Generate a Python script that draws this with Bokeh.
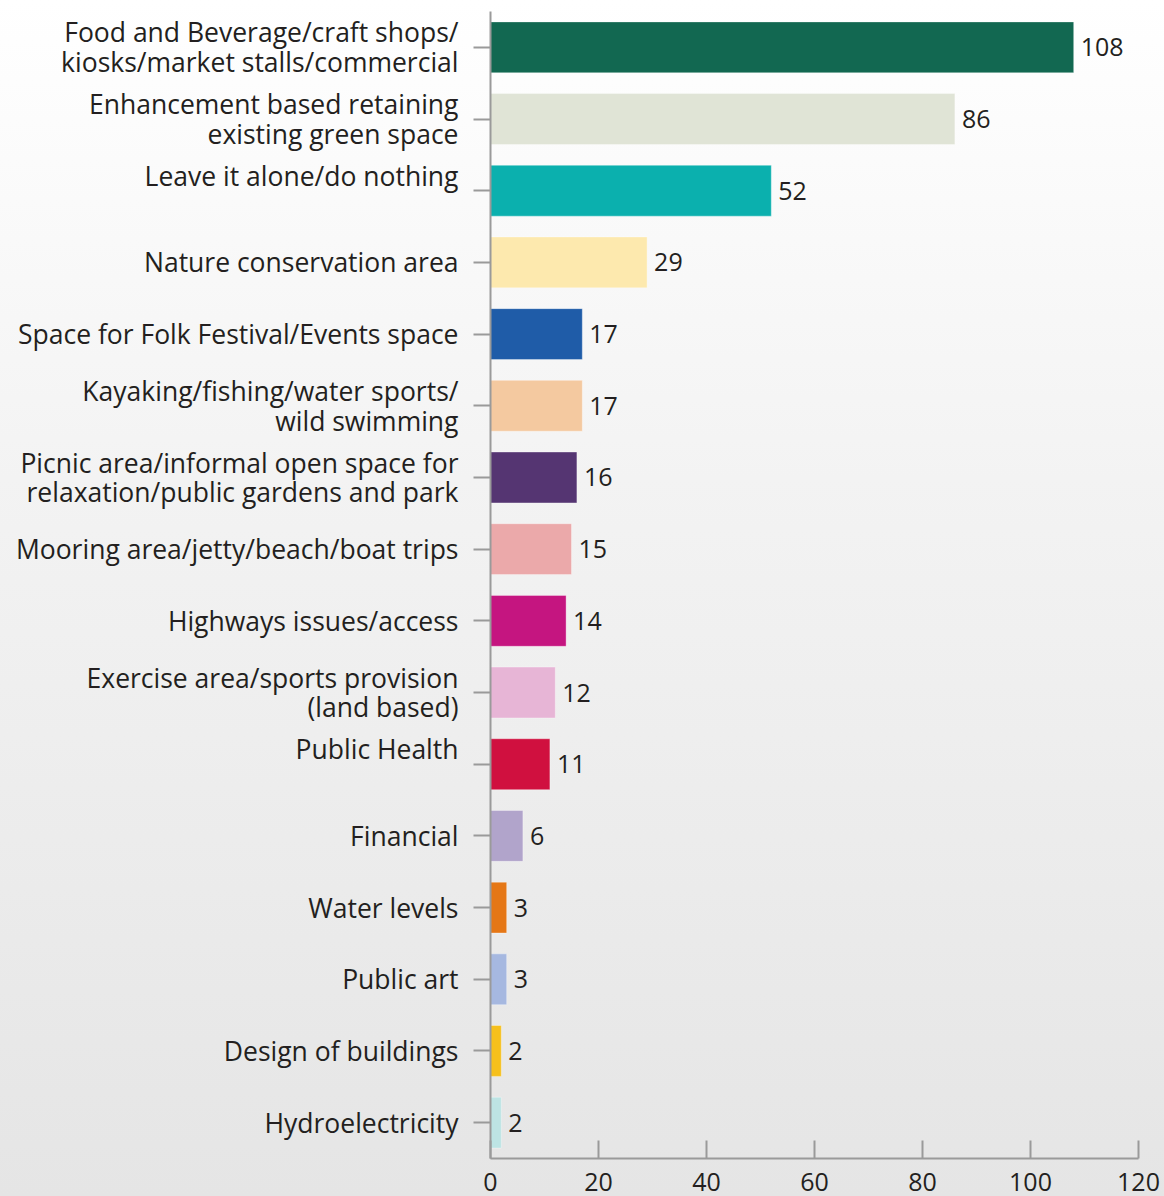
from bokeh.plotting import figure
from bokeh.models import ColumnDataSource, FactorRange, Range1d, FixedTicker
from bokeh.core.properties import value
from bokeh.embed import file_html
from bokeh.resources import INLINE

categories = [
    "Food and Beverage/craft shops/\nkiosks/market stalls/commercial",
    "Enhancement based retaining\nexisting green space",
    "Leave it alone/do nothing\n ",
    "Nature conservation area",
    "Space for Folk Festival/Events space",
    "Kayaking/fishing/water sports/\nwild swimming",
    "Picnic area/informal open space for\nrelaxation/public gardens and park",
    "Mooring area/jetty/beach/boat trips",
    "Highways issues/access",
    "Exercise area/sports provision\n(land based)",
    "Public Health\n ",
    "Financial",
    "Water levels",
    "Public art",
    "Design of buildings",
    "Hydroelectricity",
]
counts = [108, 86, 52, 29, 17, 17, 16, 15, 14, 12, 11, 6, 3, 3, 2, 2]
colors = ["#126851", "#e0e4d6", "#0bb0ae", "#fde9ae", "#1f5ca8", "#f4c9a0",
          "#553572", "#eba9aa", "#c51580", "#e7b5d6", "#d0103f", "#b1a4cb",
          "#e57716", "#a6b8e0", "#f6c01c", "#bde4e4"]
x_ticks = [0, 20, 40, 60, 80, 100, 120]

FONT = "Open Sans"

src = ColumnDataSource(dict(cat=categories, val=counts, color=colors,
                            lab=[str(v) for v in counts]))

p = figure(width=1164, height=1196, output_backend="svg", toolbar_location=None,
           y_range=FactorRange(factors=list(reversed(categories)), range_padding=0),
           x_range=Range1d(0, 120),
           min_border_left=490, min_border_right=26, min_border_top=11,
           min_border_bottom=38)

p.styles = {"background": "linear-gradient(to bottom, #ffffff 0%, #f3f3f3 40%, #e5e5e5 100%)"}
p.background_fill_color = None
p.border_fill_color = None
p.outline_line_color = None
p.grid.grid_line_color = None

p.hbar(y="cat", right="val", left=0, height=0.71, fill_color="color",
       line_color="white", line_alpha=0.35, line_width=1, source=src)
p.text(x="val", y="cat", text="lab", source=src, x_offset=7,
       text_align="left", text_baseline="middle", text_font=value(FONT),
       text_font_size="25px", text_color="#231f20")

ax = p.xaxis[0]
ax.ticker = FixedTicker(ticks=x_ticks)
ax.major_tick_in = 18
ax.major_tick_out = 0
ax.minor_tick_line_color = None
ax.axis_line_color = "#9a9a9a"
ax.axis_line_width = 2
ax.major_tick_line_color = "#9a9a9a"
ax.major_tick_line_width = 2
ax.major_label_text_font = FONT
ax.major_label_text_font_size = "25px"
ax.major_label_text_color = "#231f20"
ax.major_label_standoff = 14

ay = p.yaxis[0]
ay.major_tick_in = 0
ay.major_tick_out = 17
ay.axis_line_color = "#9a9a9a"
ay.axis_line_width = 2
ay.major_tick_line_color = "#9a9a9a"
ay.major_tick_line_width = 2
ay.major_label_text_font = FONT
ay.major_label_text_font_size = "26.5px"
ay.major_label_text_color = "#231f20"
ay.major_label_standoff = 15
ay.major_label_text_line_height = 0.83

open("out.html", "w").write(file_html(p, INLINE))
